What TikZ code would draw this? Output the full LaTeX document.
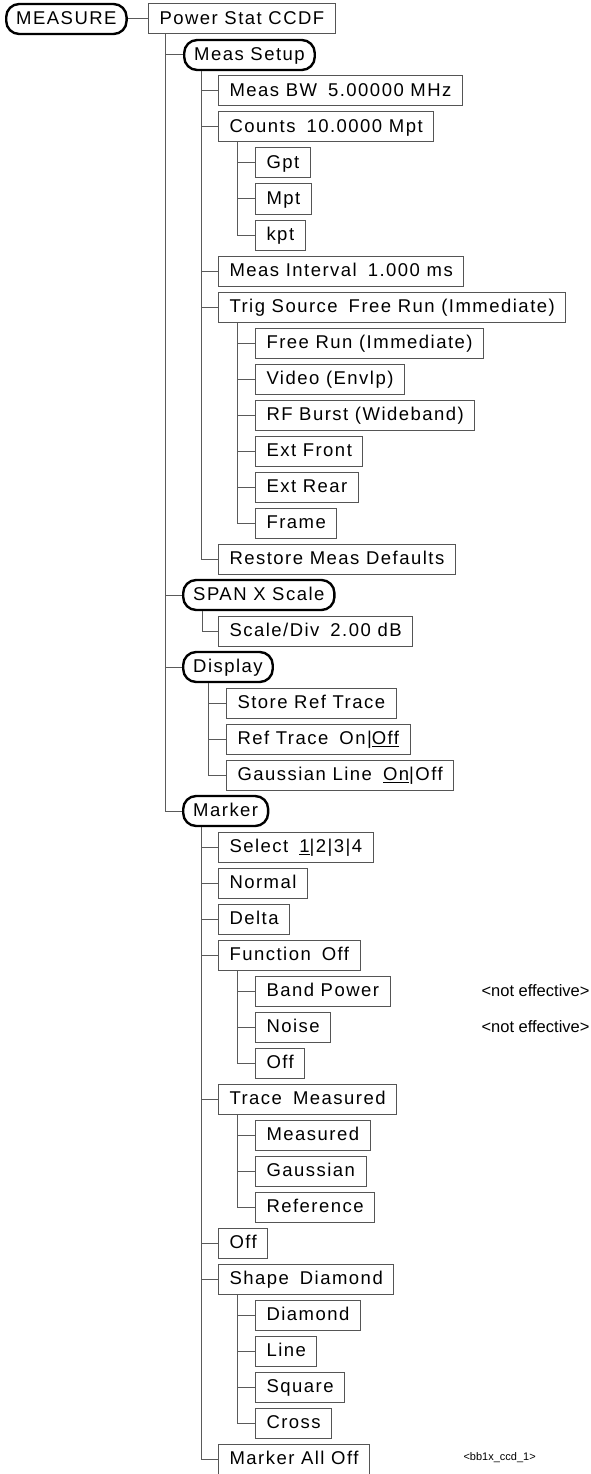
\documentclass[tikz,border=0pt]{standalone}
\usepackage{fontspec}
\setmainfont{Liberation Sans}[LetterSpace=8]
\newfontfamily\notefont{Liberation Sans}
\usepackage{tikz}
\usetikzlibrary{positioning}
\definecolor{boxframe}{RGB}{85,85,85}
\definecolor{treeline}{RGB}{90,90,90}
\newcommand\gap{\hspace{11pt}}

\begin{document}
\begin{tikzpicture}[
        x=1pt, y=-1pt,
        every node/.style={font=\fontsize{18.5}{20}\selectfont},
        menu/.style={draw=boxframe, line width=1pt, rectangle, minimum height=30pt, inner xsep=11pt, text height=15pt, text depth=4pt, anchor=west},
        key/.style={draw=black, line width=2.4pt, rectangle, rounded corners=13pt, minimum height=30pt, inner xsep=10pt, text height=15pt, text depth=4pt, anchor=west},
        branch/.style={draw=treeline, line width=1pt},
        note/.style={font=\notefont\fontsize{16.5}{18}\selectfont, anchor=west}
    ]
    \useasboundingbox (0,0) rectangle (591,1474);

    % Top level
    \node[key] (measure) at (5,19) {MEASURE};
    \node[menu] (psc) at (148,19) {Power Stat CCDF};

    % Meas Setup
    \node[key] (setup) at (183,55) {Meas Setup};
    \node[menu] (bw) at (218,91) {Meas BW\gap 5.00000 MHz};
    \node[menu] (counts) at (218,127) {Counts\gap 10.0000 Mpt};
    \node[menu] (gpt) at (255,163) {Gpt};
    \node[menu] (mpt) at (255,199) {Mpt};
    \node[menu] (kpt) at (255,235) {kpt};
    \node[menu] (interval) at (218,271) {Meas Interval\gap 1.000 ms};
    \node[menu] (trig) at (218,307) {Trig Source\gap Free Run (Immediate)};
    \node[menu] (freerun) at (255,343) {Free Run (Immediate)};
    \node[menu] (video) at (255,379) {Video (Envlp)};
    \node[menu] (rfburst) at (255,415) {RF Burst (Wideband)};
    \node[menu] (extfront) at (255,451) {Ext Front};
    \node[menu] (extrear) at (255,487) {Ext Rear};
    \node[menu] (frame) at (255,523) {Frame};
    \node[menu] (restore) at (218,559) {Restore Meas Defaults};

    % SPAN X Scale
    \node[key] (span) at (182,595) {SPAN X Scale};
    \node[menu] (scalediv) at (218,631) {Scale/Div\gap 2.00 dB};

    % Display
    \node[key] (display) at (182,667) {Display};
    \node[menu] (storeref) at (226,703) {Store Ref Trace};
    \node[menu] (reftrace) at (226,739) {Ref Trace\gap On|\underline{Off}};
    \node[menu] (gaussline) at (226,775) {Gaussian Line\gap \underline{On}|Off};

    % Marker
    \node[key] (marker) at (182,811) {Marker};
    \node[menu] (select) at (218,847) {Select\gap \underline{1}|2|3|4};
    \node[menu] (normal) at (218,883) {Normal};
    \node[menu] (delta) at (218,919) {Delta};
    \node[menu] (function) at (218,955) {Function\gap Off};
    \node[menu] (bandpower) at (255,991) {Band Power};
    \node[menu] (noise) at (255,1027) {Noise};
    \node[menu] (funcoff) at (255,1063) {Off};
    \node[menu] (trace) at (218,1099) {Trace\gap Measured};
    \node[menu] (measured) at (255,1135) {Measured};
    \node[menu] (gaussian) at (255,1171) {Gaussian};
    \node[menu] (reference) at (255,1207) {Reference};
    \node[menu] (markeroff) at (218,1243) {Off};
    \node[menu] (shape) at (218,1279) {Shape\gap Diamond};
    \node[menu] (diamond) at (255,1315) {Diamond};
    \node[menu] (line) at (255,1351) {Line};
    \node[menu] (square) at (255,1387) {Square};
    \node[menu] (cross) at (255,1423) {Cross};
    \node[menu] (alloff) at (218,1459) {Marker All Off};

    % Notes
    \node[note] (noeff1) at (478,991) {<not effective>};
    \node[note] (noeff2) at (478,1027) {<not effective>};
    \node[note, font=\notefont\fontsize{11}{12}\selectfont] (figtag) at (460,1458) {<bb1x\_ccd\_1>};

    % Tree lines
    \draw[branch] (measure) -- (psc);
    \foreach \c in {setup, span, display, marker}
        \draw[branch] ([xshift=17pt]psc.south west) |- (\c.west);
    \foreach \c in {bw, counts, interval, trig, restore}
        \draw[branch] ([xshift=18pt]setup.south west) |- (\c.west);
    \foreach \c in {gpt, mpt, kpt}
        \draw[branch] ([xshift=19pt]counts.south west) |- (\c.west);
    \foreach \c in {freerun, video, rfburst, extfront, extrear, frame}
        \draw[branch] ([xshift=19pt]trig.south west) |- (\c.west);
    \draw[branch] ([xshift=20pt]span.south west) |- (scalediv.west);
    \foreach \c in {storeref, reftrace, gaussline}
        \draw[branch] ([xshift=26pt]display.south west) |- (\c.west);
    \foreach \c in {select, normal, delta, function, trace, markeroff, shape, alloff}
        \draw[branch] ([xshift=19pt]marker.south west) |- (\c.west);
    \foreach \c in {bandpower, noise, funcoff}
        \draw[branch] ([xshift=19pt]function.south west) |- (\c.west);
    \foreach \c in {measured, gaussian, reference}
        \draw[branch] ([xshift=19pt]trace.south west) |- (\c.west);
    \foreach \c in {diamond, line, square, cross}
        \draw[branch] ([xshift=19pt]shape.south west) |- (\c.west);

\end{tikzpicture}
\end{document}
